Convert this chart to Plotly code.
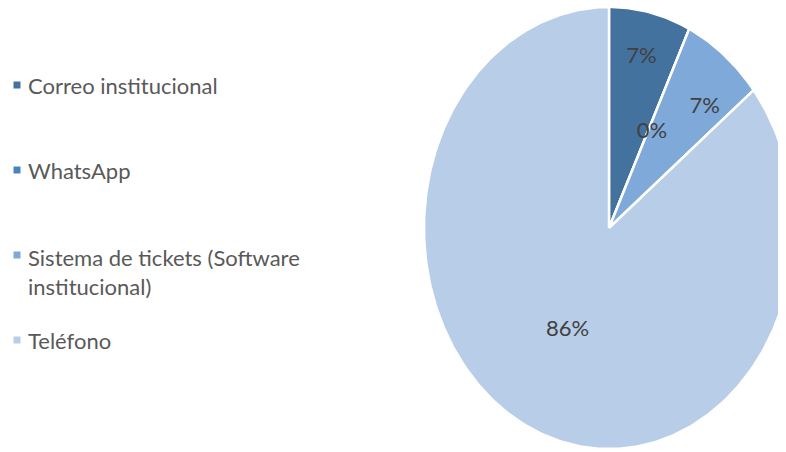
import math
import plotly.graph_objects as go

# ---- data ----
categories = ["Correo institucional", "WhatsApp", "Sistema de tickets (Software institucional)", "Teléfono"]
legend_labels = ["Correo institucional", "WhatsApp", "Sistema de tickets (Software<br>institucional)", "Teléfono"]
counts = [1, 0, 1, 12]
colors = ["#43729F", "#4A84C0", "#7EA9D8", "#B8CDE8"]

# ---- layout / style ----
OFF = 8                    # page body margin in the browser
W, H = 786 - OFF, 452 - OFF
CX, CY = 609 - OFF, 228 - OFF   # pie centre in pixels (figure coords)
RX, RY = 185, 221               # pie radii in pixels (stretched)
label_r = [0.79, 0.49, 0.75, 0.515]
label_dang = [0, 2.5, 5, 0]
legend_y = [85, 170, 272, 340]
FONT = "Lato, Liberation Sans, Arial"

total = sum(counts)
fig = go.Figure()

text_x, text_y, text_s = [], [], []
start = 0.0
for i, (cat, v, col) in enumerate(zip(categories, counts, colors)):
    frac = v / total
    end = start + frac * 360
    n = max(2, int(abs(end - start) / 1.0) + 2)
    xs, ys = [0.0], [0.0]
    for k in range(n + 1):
        a = math.radians(start + (end - start) * k / n)
        xs.append(math.sin(a))
        ys.append(math.cos(a))
    xs.append(0.0)
    ys.append(0.0)
    fig.add_trace(go.Scatter(
        x=xs, y=ys, mode="lines", fill="toself", fillcolor=col,
        line=dict(color="white", width=2.5), name=cat, showlegend=False,
        hoverinfo="skip"))
    mid = math.radians((start + end) / 2 + label_dang[i])
    text_x.append(label_r[i] * math.sin(mid))
    text_y.append(label_r[i] * math.cos(mid))
    text_s.append(f"{round(frac * 100)}%")
    start = end

fig.add_trace(go.Scatter(
    x=text_x, y=text_y, mode="text", text=text_s,
    textfont=dict(family=FONT, size=22, color="#404040"),
    showlegend=False, hoverinfo="skip"))

annotations = []
shapes = []
for i, (lab, col) in enumerate(zip(legend_labels, colors)):
    yc = legend_y[i] - OFF
    annotations.append(dict(
        xref="paper", yref="paper", x=(28 - OFF - 2) / W, y=1 - yc / H,
        xanchor="left", yanchor="middle", align="left", showarrow=False,
        text=lab, font=dict(family=FONT, size=22, color="#595959")))
    sy = (255 if i == 2 else legend_y[i]) - OFF
    shapes.append(dict(
        type="rect", xref="paper", yref="paper",
        x0=(13.5 - OFF) / W, x1=(20.5 - OFF) / W,
        y0=1 - (sy + 3.5) / H, y1=1 - (sy - 3.5) / H,
        fillcolor=col, line=dict(width=0)))

fig.update_layout(
    width=W, height=H, margin=dict(l=0, r=0, t=0, b=0),
    paper_bgcolor="white", plot_bgcolor="white",
    xaxis=dict(range=[-CX / RX, (W - CX) / RX], visible=False, fixedrange=True),
    yaxis=dict(range=[-(H - CY) / RY, CY / RY], visible=False, fixedrange=True),
    annotations=annotations, shapes=shapes, showlegend=False)

fig.write_html("out.html")
